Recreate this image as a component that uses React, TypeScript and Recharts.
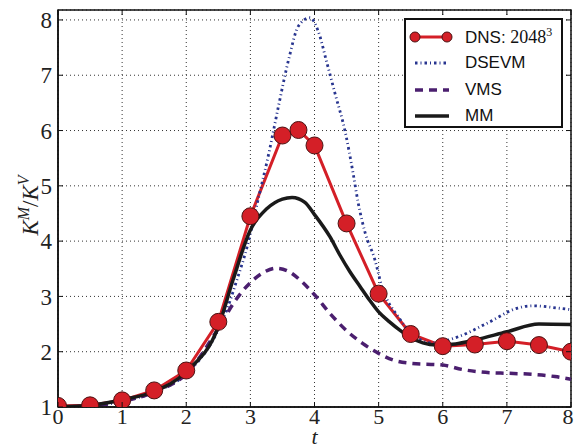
import React from "react";
import {
  LineChart,
  Line,
  XAxis,
  YAxis,
  CartesianGrid,
  ReferenceArea,
  Legend,
} from "recharts";

// ---------- data ----------
const xTicks = [0, 1, 2, 3, 4, 5, 6, 7, 8];
const yTicks = [1, 2, 3, 4, 5, 6, 7, 8];

const dnsT = [0, 0.5, 1, 1.5, 2, 2.5, 3, 3.5, 3.75, 4, 4.5, 5, 5.5, 6, 6.5, 7, 7.5, 8];
const dnsK = [1.02, 1.03, 1.12, 1.3, 1.66, 2.54, 4.45, 5.91, 6.01, 5.73, 4.32, 3.05, 2.32, 2.1, 2.13, 2.19, 2.12, 2.0];

const dsevmT = [0, 0.5, 1, 1.5, 2, 2.5, 2.63, 2.79, 2.95, 3.1, 3.29, 3.44, 3.6, 3.75, 3.93, 4.06, 4.19, 4.32, 4.48, 4.6, 4.68, 4.79, 4.94, 5.05, 5.3, 5.51, 5.82, 6.24, 6.7, 7.17, 7.4, 7.79, 8];
const dsevmK = [1.0, 1.02, 1.1, 1.27, 1.6, 2.4, 2.75, 3.3, 3.9, 4.65, 5.6, 6.45, 7.3, 7.89, 8.04, 7.79, 7.24, 6.67, 5.97, 5.24, 4.7, 4.15, 3.67, 3.18, 2.64, 2.34, 2.16, 2.27, 2.52, 2.79, 2.83, 2.79, 2.76];

const vmsT = [0, 0.5, 1, 1.5, 2, 2.5, 2.75, 3, 3.2, 3.4, 3.6, 3.8, 4, 4.25, 4.5, 4.75, 5, 5.25, 5.5, 6, 6.3, 6.75, 7, 7.4, 7.75, 8];
const vmsK = [1.0, 1.02, 1.1, 1.27, 1.6, 2.42, 2.9, 3.25, 3.43, 3.51, 3.45, 3.27, 3.03, 2.68, 2.38, 2.15, 1.97, 1.84, 1.79, 1.76, 1.68, 1.62, 1.61, 1.59, 1.55, 1.5];

const mmT = [0, 0.5, 1, 1.5, 2, 2.5, 2.73, 3, 3.26, 3.5, 3.65, 3.85, 4, 4.24, 4.4, 4.55, 4.71, 4.86, 5, 5.17, 5.33, 5.48, 5.69, 5.9, 6.2, 6.5, 7, 7.5, 8];
const mmK = [1.0, 1.03, 1.13, 1.28, 1.64, 2.45, 3.3, 4.2, 4.59, 4.76, 4.79, 4.7, 4.48, 4.08, 3.74, 3.45, 3.18, 2.93, 2.72, 2.54, 2.39, 2.27, 2.16, 2.12, 2.14, 2.21, 2.36, 2.5, 2.49];

const seriesNames = ["DNS", "DSEVM", "VMS", "MM"];

const toRows = (ts: number[], ks: number[]) => ts.map((t, i) => ({ t, k: ks[i] }));
const dnsData = toRows(dnsT, dnsK);
const dsevmData = toRows(dsevmT, dsevmK);
const vmsData = toRows(vmsT, vmsK);
const mmData = toRows(mmT, mmK);

// ---------- styles ----------
const W = 574;
const H = 447;
const M = { top: 10, right: 3, bottom: 0, left: 0 };
const Y_AXIS_W = 58;
const X_AXIS_H = 40;
const PLOT_TOP = M.top;
const PLOT_BOTTOM = H - M.bottom - X_AXIS_H;
const PLOT_LEFT = M.left + Y_AXIS_W;
const PLOT_RIGHT = W - M.right;
const TICK_LEN = 5;
const X_TICK_MARGIN = 1;
const Y_TICK_MARGIN = 6;
const Y_MAX = 8.18;

const RED = "#d41f27";
const RED_EDGE = "#4a1212";
const BLUE = "#27348f";
const PURPLE = "#4b1f6f";
const BLACK = "#1a1a1a";
const SERIF = "'Liberation Serif', 'DejaVu Serif', serif";
const SANS = "'Liberation Sans', Arial, sans-serif";

const XTick = (props: any) => {
  const { x, y, payload } = props;
  const axisY = y - X_TICK_MARGIN;
  const tx = Math.min(x, W - 6);
  return (
    <g>
      <line x1={x} x2={x} y1={axisY} y2={axisY - TICK_LEN} stroke="#111" strokeWidth={1} />
      <line x1={x} x2={x} y1={PLOT_TOP} y2={PLOT_TOP + TICK_LEN} stroke="#111" strokeWidth={1} />
      <text x={tx} y={y} dy="0.71em" textAnchor="middle" fontFamily={SERIF} fontSize={22} fill="#222">
        {payload.value}
      </text>
    </g>
  );
};

const YTick = (props: any) => {
  const { x, y, payload } = props;
  const axisX = x + Y_TICK_MARGIN;
  return (
    <g>
      <line x1={axisX} x2={axisX + TICK_LEN} y1={y} y2={y} stroke="#111" strokeWidth={1} />
      <line x1={PLOT_RIGHT} x2={PLOT_RIGHT - TICK_LEN} y1={y} y2={y} stroke="#111" strokeWidth={1} />
      <text x={x} y={y} dy="0.355em" textAnchor="end" fontFamily={SERIF} fontSize={23} fill="#222">
        {payload.value}
      </text>
    </g>
  );
};

const YLabel = (props: any) => {
  const vb = props.viewBox || { x: 0, y: PLOT_TOP, width: Y_AXIS_W, height: PLOT_BOTTOM - PLOT_TOP };
  const cx = vb.x + 38;
  const cy = vb.y + vb.height / 2 - 3;
  return (
    <text
      x={cx}
      y={cy}
      transform={`rotate(-90, ${cx}, ${cy})`}
      textAnchor="middle"
      fontFamily={SERIF}
      fontSize={23}
      fill="#222"
    >
      <tspan fontStyle="italic">K</tspan>
      <tspan fontStyle="italic" fontSize={16} dy={-9}>M</tspan>
      <tspan dy={9}>/</tspan>
      <tspan fontStyle="italic">K</tspan>
      <tspan fontStyle="italic" fontSize={16} dy={-9}>V</tspan>
    </text>
  );
};

const XLabel = (props: any) => {
  const vb = props.viewBox || { x: PLOT_LEFT, y: PLOT_BOTTOM, width: PLOT_RIGHT - PLOT_LEFT, height: X_AXIS_H };
  return (
    <text
      x={vb.x + vb.width / 2}
      y={vb.y + 37}
      textAnchor="middle"
      fontFamily={SERIF}
      fontStyle="italic"
      fontSize={22}
      fill="#222"
    >
      t
    </text>
  );
};

const Swatch = ({ name }: { name: string }) => {
  if (name === "DNS") {
    return (
      <svg width={44} height={14}>
        <line x1={6} x2={38} y1={7} y2={7} stroke={RED} strokeWidth={3} />
        <circle cx={6} cy={7} r={5} fill={RED} stroke={RED_EDGE} strokeWidth={1} />
        <circle cx={38} cy={7} r={5} fill={RED} stroke={RED_EDGE} strokeWidth={1} />
      </svg>
    );
  }
  if (name === "DSEVM") {
    return (
      <svg width={44} height={14}>
        <line x1={6} x2={40} y1={7} y2={7} stroke={BLUE} strokeWidth={2.8} strokeDasharray="2.5 3 1 3" />
      </svg>
    );
  }
  if (name === "VMS") {
    return (
      <svg width={44} height={14}>
        <line x1={6} x2={40} y1={7} y2={7} stroke={PURPLE} strokeWidth={3.5} strokeDasharray="8 6" />
      </svg>
    );
  }
  return (
    <svg width={44} height={14}>
      <line x1={6} x2={40} y1={7} y2={7} stroke={BLACK} strokeWidth={3.5} />
    </svg>
  );
};

const LegendBox = () => (
  <div
    style={{
      position: "relative",
      width: 159,
      height: 110,
      boxSizing: "border-box",
      border: "2px solid #111",
      background: "#fff",
    }}
  >
    {seriesNames.map((name, i) => (
      <div
        key={name}
        style={{
          position: "absolute",
          left: 3,
          top: 8 + i * 26.3,
          height: 18,
          display: "flex",
          alignItems: "center",
          whiteSpace: "nowrap",
        }}
      >
        <Swatch name={name} />
        <span style={{ marginLeft: 12, fontFamily: SANS, fontSize: 17, color: "#111" }}>
          {name === "DNS" ? (
            <>
              DNS:{" "}
              <span style={{ fontFamily: SERIF, fontSize: 18 }}>
                2048<sup style={{ fontSize: 12, verticalAlign: "7px", lineHeight: 0 }}>3</sup>
              </span>
            </>
          ) : (
            name
          )}
        </span>
      </div>
    ))}
  </div>
);

export default function App() {
  return (
    <div style={{ position: "absolute", left: 0, top: 0, width: W, height: H, background: "#fff" }}>
      <LineChart width={W} height={H} margin={M}>
        <CartesianGrid stroke="#333" strokeDasharray="1 3" strokeWidth={1} />
        <XAxis
          dataKey="t"
          type="number"
          domain={[0, 8]}
          ticks={xTicks}
          allowDataOverflow
          height={X_AXIS_H}
          tickSize={0}
          tickMargin={X_TICK_MARGIN}
          tick={<XTick />}
          axisLine={{ stroke: "#111", strokeWidth: 1.5 }}
          label={XLabel}
          interval={0}
        />
        <YAxis
          dataKey="k"
          type="number"
          domain={[1, Y_MAX]}
          ticks={yTicks}
          allowDataOverflow
          width={Y_AXIS_W}
          tickSize={0}
          tickMargin={Y_TICK_MARGIN}
          tick={<YTick />}
          axisLine={{ stroke: "#111", strokeWidth: 1.5 }}
          label={YLabel}
          interval={0}
        />
        <ReferenceArea
          x1={0}
          x2={8}
          y1={1}
          y2={Y_MAX}
          fill="none"
          fillOpacity={0}
          stroke="#111"
          strokeWidth={1.5}
        />
        <Line
          data={dnsData}
          dataKey="k"
          name="DNS"
          type="linear"
          stroke={RED}
          strokeWidth={3}
          dot={{ r: 8.5, fill: RED, stroke: RED_EDGE, strokeWidth: 1, fillOpacity: 1 }}
          isAnimationActive={false}
        />
        <Line
          data={dsevmData}
          dataKey="k"
          name="DSEVM"
          type="monotone"
          stroke={BLUE}
          strokeWidth={2.8}
          strokeDasharray="2.5 3 1 3"
          dot={false}
          isAnimationActive={false}
        />
        <Line
          data={vmsData}
          dataKey="k"
          name="VMS"
          type="monotone"
          stroke={PURPLE}
          strokeWidth={3.5}
          strokeDasharray="8 6"
          dot={false}
          isAnimationActive={false}
        />
        <Line
          data={mmData}
          dataKey="k"
          name="MM"
          type="monotone"
          stroke={BLACK}
          strokeWidth={3.5}
          dot={false}
          isAnimationActive={false}
        />
        <Legend
          layout="vertical"
          align="center"
          verticalAlign="middle"
          content={<LegendBox />}
          wrapperStyle={{ left: 404, top: 18, width: 159, height: 110 }}
        />
      </LineChart>
    </div>
  );
}
